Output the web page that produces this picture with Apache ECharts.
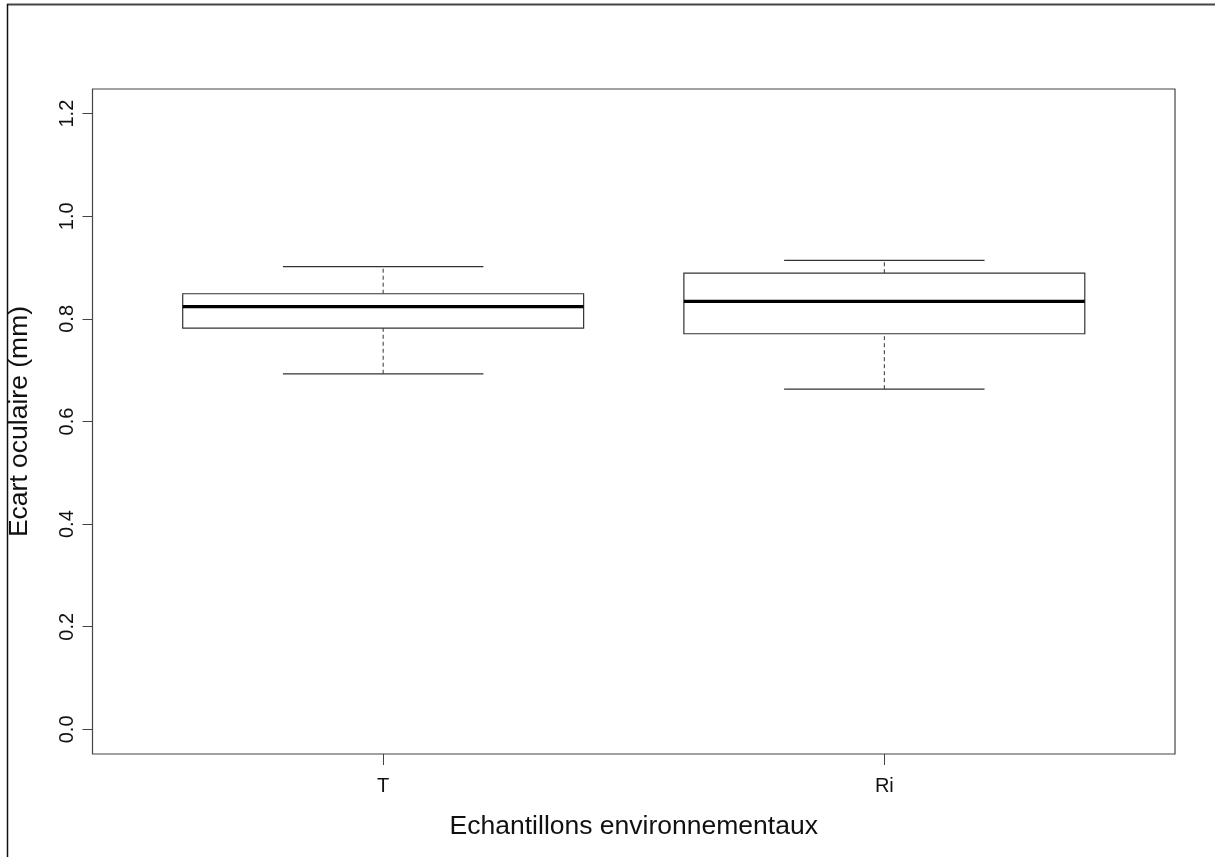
<!DOCTYPE html>
<html>
<head>
<meta charset="utf-8">
<title>Ecart oculaire</title>
<script src="https://cdn.jsdelivr.net/npm/echarts@6/dist/echarts.min.js"></script>
<style>
  html, body { margin: 0; padding: 0; background: #fff; }
  #chart { width: 1215px; height: 857px; }
</style>
</head>
<body>
<div id="chart"></div>
<script>
// Sample groups along the x axis
const categories = ['T', 'Ri'];
// Five-number summaries per group: [min, Q1, median, Q3, max] (mm)
const lowerWhisker = [0.693, 0.663];
const lowerQuartile = [0.782, 0.771];
const medians = [0.824, 0.834];
const upperQuartile = [0.849, 0.889];
const upperWhisker = [0.902, 0.914];
// Y tick labels
const yTicks = [0, 0.2, 0.4, 0.6, 0.8, 1.0, 1.2];

const boxRows = categories.map((c, i) => [
  i + 1, lowerWhisker[i], lowerQuartile[i], medians[i], upperQuartile[i], upperWhisker[i]
]);

const FONT = '"Liberation Sans", Arial, Helvetica, sans-serif';
const LINE = '#333';

function renderBox(params, api) {
  const x = api.value(0);
  const p = (xv, yv) => api.coord([xv, yv]);
  const half = 0.4;      // box half width in axis units
  const capHalf = 0.2;   // staple half width
  const vMin = api.value(1), vQ1 = api.value(2), vMed = api.value(3),
        vQ3 = api.value(4), vMax = api.value(5);

  const boxTL = p(x - half, vQ3);
  const boxBR = p(x + half, vQ1);
  const dashed = { stroke: LINE, lineWidth: 1, lineDash: [4, 3] };
  const solid = { stroke: LINE, lineWidth: 1.2 };

  const seg = (a, b, style) => ({
    type: 'line',
    shape: { x1: a[0], y1: a[1], x2: b[0], y2: b[1] },
    style: style
  });

  return {
    type: 'group',
    children: [
      seg(p(x, vQ3), p(x, vMax), dashed),
      seg(p(x, vMin), p(x, vQ1), dashed),
      seg(p(x - capHalf, vMax), p(x + capHalf, vMax), solid),
      seg(p(x - capHalf, vMin), p(x + capHalf, vMin), solid),
      {
        type: 'rect',
        shape: { x: boxTL[0], y: boxTL[1], width: boxBR[0] - boxTL[0], height: boxBR[1] - boxTL[1] },
        style: { fill: '#fff', stroke: LINE, lineWidth: 1.2 }
      },
      seg(p(x - half, vMed), p(x + half, vMed), { stroke: '#000', lineWidth: 3.2 })
    ]
  };
}

const chart = echarts.init(document.getElementById('chart'), null, { renderer: 'canvas' });

chart.setOption({
  backgroundColor: '#fff',
  animation: false,
  grid: {
    left: 92.5, right: 40, top: 89, bottom: 103,
    outerBoundsMode: 'none',
    containLabel: false,
    show: true, borderColor: '#444', borderWidth: 1.2, backgroundColor: 'transparent'
  },
  xAxis: {
    type: 'value',
    min: 0.42, max: 2.58,
    name: 'Echantillons environnementaux',
    nameLocation: 'middle',
    nameGap: 59,
    nameTextStyle: { fontFamily: FONT, fontSize: 26.5, color: '#111' },
    axisLine: { show: false, onZero: false },
    splitLine: { show: false },
    axisTick: { show: true, inside: false, length: 11, lineStyle: { color: '#444' }, customValues: [1, 2] },
    axisLabel: {
      customValues: [1, 2],
      margin: 22,
      fontFamily: FONT, fontSize: 20, color: '#111',
      formatter: v => categories[Math.round(v) - 1] || ''
    }
  },
  yAxis: {
    type: 'value',
    min: -0.048, max: 1.248,
    name: 'Ecart oculaire (mm)',
    nameLocation: 'middle',
    nameGap: 59,
    nameTextStyle: { fontFamily: FONT, fontSize: 26.5, color: '#111' },
    axisLine: { show: false, onZero: false },
    splitLine: { show: false },
    axisTick: { show: true, inside: false, length: 10, lineStyle: { color: '#444' }, customValues: yTicks },
    axisLabel: {
      customValues: yTicks,
      rotate: 90,
      margin: 15,
      fontFamily: FONT, fontSize: 20, color: '#111',
      formatter: v => v.toFixed(1)
    }
  },
  graphic: [
    { type: 'line', shape: { x1: 7, y1: 4.5, x2: 1215, y2: 4.5 }, style: { stroke: '#444', lineWidth: 2 } },
    { type: 'line', shape: { x1: 7.5, y1: 4, x2: 7.5, y2: 857 }, style: { stroke: '#111', lineWidth: 1.5 } }
  ],
  series: [{
    type: 'custom',
    renderItem: renderBox,
    encode: { x: 0, y: [1, 2, 3, 4, 5] },
    data: boxRows,
    clip: false
  }]
});
</script>
</body>
</html>
